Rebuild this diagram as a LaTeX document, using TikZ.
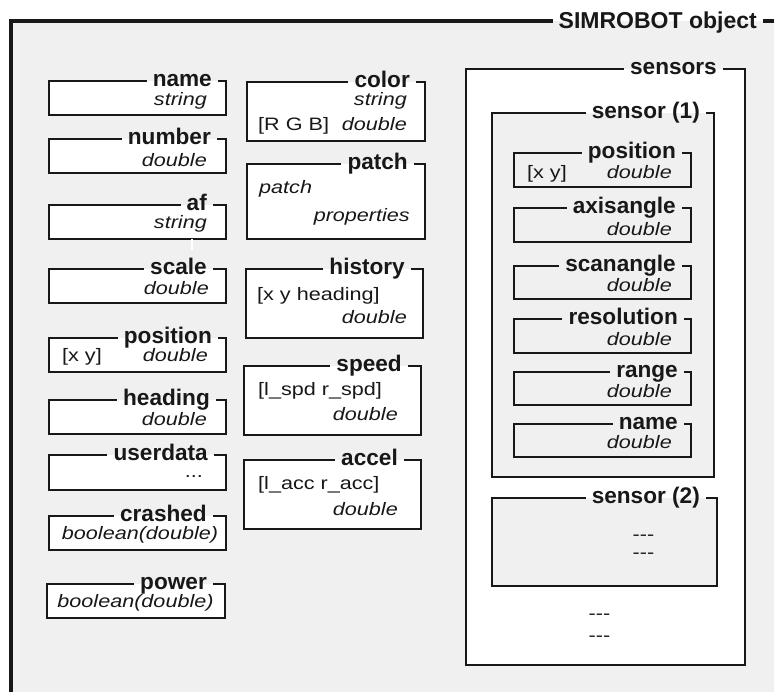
\documentclass[tikz,border=0pt]{standalone}
\usepackage{fontspec}
\newfontfamily\labfont[FakeStretch=1.0]{Liberation Sans}
\newfontfamily\txtfont[FakeStretch=1.2]{Liberation Sans}
\definecolor{panel}{RGB}{240,240,240}
\definecolor{ink}{RGB}{24,24,24}
\tikzset{
  lab/.style={font=\labfont\bfseries\fontsize{22.6}{23}\selectfont, inner sep=0pt, anchor=base east, text=ink},
  typ/.style={font=\txtfont\itshape\fontsize{18}{18}\selectfont, inner sep=0pt, anchor=base east, text=ink},
  txt/.style={font=\txtfont\fontsize{18}{18}\selectfont, inner sep=0pt, anchor=base west, text=ink},
  frame/.style={draw=ink, line width=2pt},
  outer/.style={draw=ink, line width=3.5pt},
}
% #1 id, #2 x1, #3 y1, #4 x2, #5 y2, #6 fill, #7 title, #8 right end of the title
\newcommand\fieldbox[8]{%
  \fill[#6] (#2,#3) rectangle (#4,#5);
  \node[lab] (#1) at (#8,{#3+5.5}) {#7};
  \coordinate (#1-tl) at (#2,#3);
  \coordinate (#1-br) at (#4,#5);
  \path ([xshift=-6pt]#1.west) coordinate (#1-gl)
        ([xshift=6pt]#1.east) coordinate (#1-gr);
  \draw[frame] (#1-gl |- #1-tl) -- (#1-tl) |- (#1-br) |- (#1-gr |- #1-tl);
}
\begin{document}
\begin{tikzpicture}[x=1pt, y=-1pt]
\useasboundingbox (0,0) rectangle (774,691);
\clip (0,0) rectangle (774,691);
\fill[white] (0,0) rectangle (774,691);

% outer object frame
\fill[panel] (11,21) rectangle (800,720);
\node[lab, font=\labfont\bfseries\fontsize{23}{23}\selectfont] (title) at (757,28) {SIMROBOT object};
\coordinate (frame-tl) at (11,21);
\coordinate (frame-bl) at (11,720);
\coordinate (frame-tr) at (800,21);
\path ([xshift=-6pt]title.west) coordinate (title-gl)
      ([xshift=6pt]title.east) coordinate (title-gr);
\draw[outer] (title-gl |- frame-tl) -- (frame-tl) -- (frame-bl);
\draw[outer] (title-gr |- frame-tl) -- (frame-tr);

% left column
\fieldbox{name}{49}{81}{226}{115}{white}{name}{212}
\node[typ] (name-t) at (207,105) {string};
\fieldbox{number}{49}{139}{226}{173}{white}{number}{211}
\node[typ] (number-t) at (207,166) {double};
\fieldbox{af}{49}{205}{226}{239}{white}{af}{207}
\node[typ] (af-t) at (207,228) {string};
\draw[white, line width=1.5pt] (af-br -| 192,0) -- ++(0,11);
\fieldbox{scale}{49}{269}{226}{303}{white}{scale}{207}
\node[typ] (scale-t) at (209,294) {double};
\fieldbox{position}{49}{338}{226}{372}{white}{position}{212}
\node[txt] (position-v) at (62,361) {[x y]};
\node[typ] (position-t) at (208,361) {double};
\fieldbox{heading}{49}{400}{226}{434}{white}{heading}{210}
\node[typ] (heading-t) at (207,425) {double};
\fieldbox{userdata}{49}{455}{226}{490}{white}{userdata}{208}
\node[txt, anchor=base east] (userdata-t) at (203,477) {...};
\fieldbox{crashed}{49}{516}{226}{550}{white}{crashed}{207}
\node[typ, anchor=base] (crashed-t) at (140,539) {boolean(double)};
\fieldbox{power}{47}{584}{225}{618}{white}{power}{207}
\node[typ, anchor=base] (power-t) at (135.5,607) {boolean(double)};

% middle column
\fieldbox{color}{247}{82}{425}{141}{white}{color}{410}
\node[typ] (color-t) at (407,105) {string};
\node[txt] (color-v) at (258,130) {[R G B]};
\node[typ] (color-d) at (407,130) {double};
\fieldbox{patch}{247}{164}{425}{239}{white}{patch}{408}
\node[typ, anchor=base west] (patch-a) at (259,193) {patch};
\node[typ] (patch-b) at (410,221) {properties};
\fieldbox{history}{246}{269}{423}{338}{white}{history}{405}
\node[txt] (history-v) at (257,300) {[x y heading]};
\node[typ] (history-t) at (407,323) {double};
\fieldbox{speed}{244}{366}{421}{435}{white}{speed}{402}
\node[txt] (speed-v) at (258,395) {[l\_spd r\_spd]};
\node[typ] (speed-t) at (398,420) {double};
\fieldbox{accel}{244}{460}{421}{529}{white}{accel}{398}
\node[txt] (accel-v) at (258,489) {[l\_acc r\_acc]};
\node[typ] (accel-t) at (398,515) {double};

% sensors
\fieldbox{sensors}{466}{69}{745}{665}{white}{sensors}{717}
\fieldbox{sensor1}{492}{113}{714}{477}{panel}{sensor (1)}{700}
\fieldbox{spos}{514}{153}{691}{187}{panel}{position}{676}
\node[txt] (spos-v) at (527,178) {[x y]};
\node[typ] (spos-t) at (672,178) {double};
\fieldbox{axis}{514}{208}{691}{242}{panel}{axisangle}{676}
\node[typ] (axis-t) at (672,235) {double};
\fieldbox{scan}{514}{266}{691}{299}{panel}{scanangle}{676}
\node[typ] (scan-t) at (672,291) {double};
\fieldbox{res}{514}{319}{691}{353}{panel}{resolution}{678}
\node[typ] (res-t) at (672,345) {double};
\fieldbox{range}{514}{372}{691}{405}{panel}{range}{678}
\node[typ] (range-t) at (672,397) {double};
\fieldbox{sname}{514}{424}{691}{457}{panel}{name}{678}
\node[typ] (sname-t) at (672,448) {double};
\fieldbox{sensor2}{492}{498}{717}{586}{panel}{sensor (2)}{700}
\node[txt, anchor=center] (sensor2-a) at (643.5,538) {-{}-{}-};
\node[txt, anchor=center] (sensor2-b) at (643.5,556) {-{}-{}-};
\node[txt, anchor=center] (sensors-a) at (599.5,617) {-{}-{}-};
\node[txt, anchor=center] (sensors-b) at (599.5,639) {-{}-{}-};
\end{tikzpicture}
\end{document}
